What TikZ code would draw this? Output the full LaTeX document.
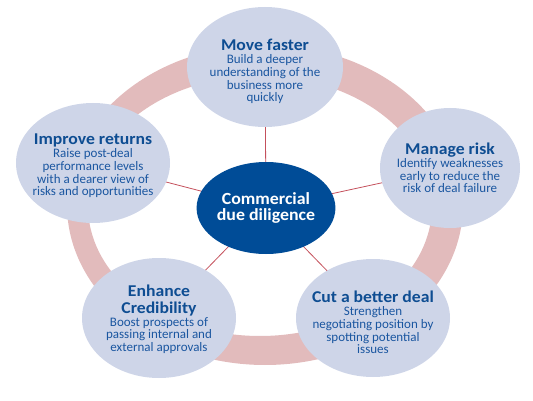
\documentclass[tikz,border=0pt]{standalone}
\usepackage{fontspec}
\setmainfont{Carlito}
\newfontfamily\titlefont[FakeStretch=1.07]{Carlito}
\newfontfamily\corefont[FakeStretch=1.05]{Carlito}
\usetikzlibrary{shapes.geometric,backgrounds}
\definecolor{ringpink}{HTML}{E2BBBC}
\definecolor{lav}{HTML}{CED5E8}
\definecolor{titleblue}{HTML}{0E4D92}
\definecolor{bodyblue}{HTML}{1A56A0}
\definecolor{coreblue}{HTML}{004C97}
\definecolor{linkred}{HTML}{C4505C}
\newcommand{\ttl}[1]{{\titlefont\fontsize{16.5}{17}\selectfont\bfseries\color{titleblue}#1}}
\begin{document}
\begin{tikzpicture}[x=1pt,y=-1pt,
  petal/.style={ellipse,fill=lav,inner sep=0pt},
  txt/.style={inner sep=0pt,align=center,text=bodyblue,
    font=\fontsize{13}{12.6}\selectfont},
  core/.style={ellipse,fill=coreblue,inner sep=0pt,align=center,text=white,
    font=\corefont\fontsize{17}{16.7}\selectfont\bfseries,minimum width=128pt,minimum height=92pt},
  link/.style={draw=linkred,line width=0.8pt}]
\useasboundingbox (0,0) rectangle (533,401);
% nodes
\node[core] (c) at (266,208) {Commercial\\due diligence};
\node[petal,minimum width=156pt,minimum height=120pt] (mf) at (265,67) {};
\node[petal,minimum width=154pt,minimum height=120pt] (ir) at (93,163) {};
\node[petal,minimum width=140pt,minimum height=120pt] (mr) at (450,168) {};
\node[petal,minimum width=154pt,minimum height=120pt] (ec) at (159,318) {};
\node[petal,minimum width=154pt,minimum height=118pt] (cd) at (373,318) {};
\node[txt] (mft) at (265,71.5)
  {\ttl{Move faster}\\[0.5pt]Build a deeper\\understanding of the\\business more\\quickly};
\node[txt] (irt) at (93,166)
  {\ttl{Improve returns}\\[0.5pt]Raise post-deal\\performance levels\\with a dearer view of\\risks and opportunities};
\node[txt] (mrt) at (450,168)
  {\ttl{Manage risk}\\[0.5pt]Identify weaknesses\\early to reduce the\\risk of deal failure};
\node[txt] (ect) at (159,319)
  {\ttl{Enhance}\\[4.4pt]\ttl{Credibility}\\[0.5pt]Boost prospects of\\passing internal and\\external approvals};
\node[txt] (cdt) at (373,322.5)
  {\ttl{Cut a better deal}\\[0.5pt]Strengthen\\negotiating position by\\spotting potential\\issues};
\begin{scope}[on background layer]
  % ring
  \fill[ringpink,even odd rule] (265,205) ellipse [x radius=198, y radius=160]
    (260,206) ellipse [x radius=172, y radius=130];
  \draw[link] (c.center) -- (mf.center);
  \draw[link] (c.center) -- (ir.center);
  \draw[link] (c.center) -- (mr.center);
  \draw[link] (c.center) -- (ec.center);
  \draw[link] (c.center) -- (cd.center);
\end{scope}
\end{tikzpicture}
\end{document}
